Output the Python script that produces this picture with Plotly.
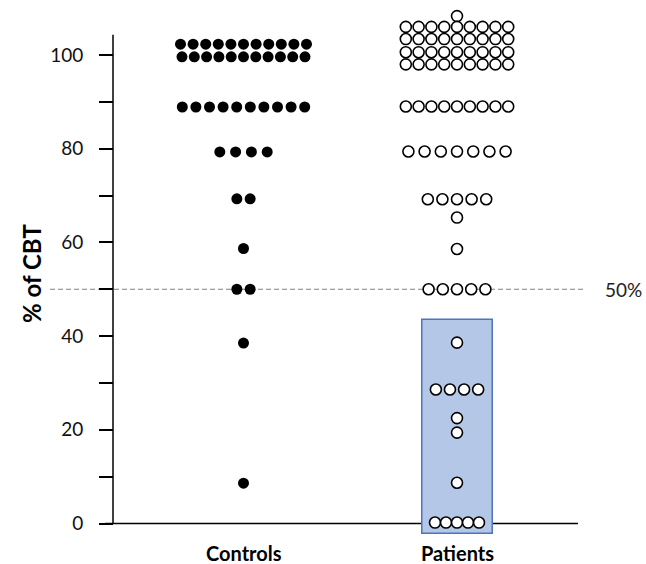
import plotly.graph_objects as go

# ---------------- data ----------------
groups = ["Controls", "Patients"]

controls_levels = [102.3, 99.6, 88.9, 79.3, 69.3, 58.7, 50.0, 38.5, 8.6]
controls_counts = [11, 11, 10, 4, 2, 1, 2, 1, 1]

patients_levels = [108.3, 106.0, 103.4, 100.6, 98.0, 89.0, 79.4, 69.2, 65.3,
                   58.6, 50.0, 38.6, 28.6, 22.5, 19.4, 8.7, 0.2]
patients_counts = [1, 9, 9, 9, 9, 9, 7, 5, 1, 1, 5, 1, 4, 1, 1, 1, 5]

patients_bar_low = -2.1
patients_bar_high = 43.6

threshold = 50
threshold_label = "50%"

y_tick_values = [0, 10, 20, 30, 40, 50, 60, 70, 80, 90, 100]
y_tick_labels = ["0", "", "20", "", "40", "", "60", "", "80", "", "100"]
y_title = "% of CBT"

# ---------------- style ----------------
W, H = 646, 564
ML, MR, MT, MB = 105, 68, 8, 26
XR = [0.3513, 2.5667]
YR = [-3.095, 110.03]
plot_w = W - ML - MR
plot_h = H - MT - MB
px_per_x = plot_w / (XR[1] - XR[0])

controls_gap_px = [12.6, 12.3, 13.6, 15.8, 13.3, 13, 13.3, 13, 13]
patients_gap_px = [13, 12.8, 12.8, 12.8, 12.8, 12.8, 16.2, 14.6, 13, 13,
                   14.2, 13, 14.1, 13, 13, 13, 11]

FONT = "Lato"


def swarm(center, levels, counts, gaps):
    xs, ys = [], []
    for lv, n, g in zip(levels, counts, gaps):
        for i in range(n):
            xs.append(center + (i - (n - 1) / 2) * g / px_per_x)
            ys.append(lv)
    return xs, ys


cx, cy = swarm(1, controls_levels, controls_counts, controls_gap_px)
pxs, pys = swarm(2, patients_levels, patients_counts, patients_gap_px)

fig = go.Figure()
fig.add_trace(go.Bar(
    x=[2], base=[patients_bar_low], y=[patients_bar_high - patients_bar_low],
    width=0.33, marker=dict(color="#b4c7e7", line=dict(color="#4f74bd", width=1.5)),
    hoverinfo="skip", showlegend=False))
fig.add_trace(go.Scatter(
    x=cx, y=cy, mode="markers", cliponaxis=False, showlegend=False,
    marker=dict(size=11, color="black", line=dict(width=0))))
fig.add_trace(go.Scatter(
    x=pxs, y=pys, mode="markers", cliponaxis=False, showlegend=False,
    marker=dict(size=11, color="white", line=dict(width=1.6, color="black"))))

yaxis_pos = (113 - ML) / plot_w

shapes = [
    # threshold dashed line
    dict(type="line", xref="paper", yref="y", x0=(50 - ML) / plot_w, x1=(583 - ML) / plot_w,
         y0=threshold, y1=threshold, layer="below",
         line=dict(color="#808080", width=1, dash="5px,3px")),
    # x axis line
    dict(type="line", xref="paper", yref="y", x0=0, x1=1, y0=0, y1=0, layer="below",
         line=dict(color="black", width=1.5)),
    # y axis line
    dict(type="line", xref="paper", yref="y", x0=yaxis_pos, x1=yaxis_pos, y0=0, y1=104.3,
         layer="below", line=dict(color="black", width=1.5)),
]

annotations = [
    dict(text=threshold_label, xref="paper", yref="y", x=(603 - ML) / plot_w, y=threshold,
         xanchor="left", yanchor="middle", showarrow=False,
         font=dict(family=FONT, size=19, color="#222")),
    dict(text="<b>%s</b>" % y_title, xref="paper", yref="paper",
         x=(31 - ML) / plot_w, y=(H - MB - 274) / plot_h,
         xanchor="center", yanchor="middle", textangle=-90, showarrow=False,
         font=dict(family=FONT, size=24, color="black")),
]
for i, g in enumerate(groups):
    annotations.append(dict(text="<b>%s</b>" % g, xref="x", yref="paper", x=i + 1, y=0,
                            yshift=-15, xanchor="center", yanchor="middle", showarrow=False,
                            font=dict(family=FONT, size=20, color="black")))

fig.update_layout(
    width=W, height=H, margin=dict(l=ML, r=MR, t=MT, b=MB),
    paper_bgcolor="white", plot_bgcolor="white",
    shapes=shapes, annotations=annotations, showlegend=False,
    xaxis=dict(range=XR, showline=False, showgrid=False, zeroline=False,
               showticklabels=False, ticks=""),
    yaxis=dict(range=YR, anchor="free", position=yaxis_pos, showline=False,
               showgrid=False, zeroline=False, ticks="outside", ticklen=14,
               tickwidth=1.5, tickcolor="black", tickvals=y_tick_values,
               ticktext=y_tick_labels, ticklabelstandoff=12,
               tickfont=dict(family=FONT, size=19, color="#111")),
)

fig.write_html("out.html", config={"displayModeBar": False},
               post_script="document.body.style.margin='0';document.body.style.padding='0';")
